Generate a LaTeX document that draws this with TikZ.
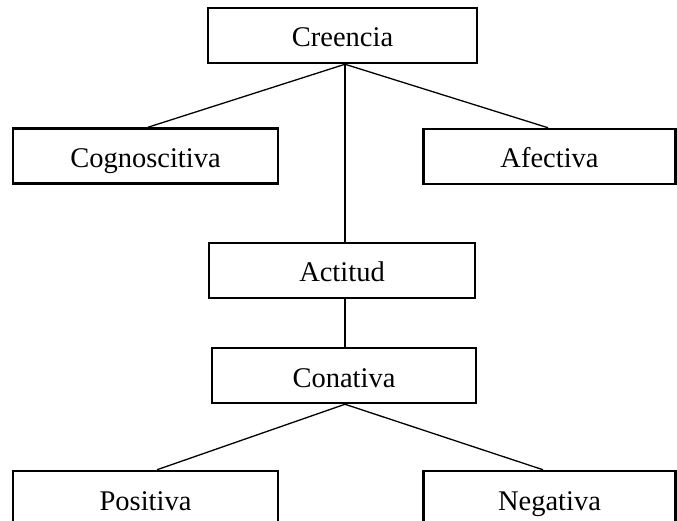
\documentclass[tikz,border=0pt]{standalone}
\usepackage{fontspec}
\setmainfont{Liberation Serif}
\begin{document}
\begin{tikzpicture}[x=1pt,y=-1pt,
  box/.style={draw=black, line width=2.5pt, inner sep=0pt, minimum height=55pt,
    text height=27pt, text depth=4pt,
    font=\fontsize{28.5}{34}\selectfont},
  link/.style={draw=black, line width=1.3pt}]
  \useasboundingbox (0,0) rectangle (677,521);
  % concept boxes
  \node[box, minimum width=269pt] (creencia) at (342.5,35.5) {Creencia};
  \node[box, minimum width=265pt] (cogn) at (145.5,156) {Cognoscitiva};
  \node[box, minimum width=252pt] (afec) at (549.5,156.5) {Afectiva};
  \node[box, minimum width=266pt] (actitud) at (342,270.5) {Actitud};
  \node[box, minimum width=264pt] (conat) at (344,375.5) {Conativa};
  \node[box, minimum width=265pt] (posit) at (145.5,498.5) {Positiva};
  \node[box, minimum width=252pt] (negat) at (549.5,498.5) {Negativa};
  % connectors
  \draw[link] ([xshift=2.5pt]creencia.south) -- ([xshift=2.5pt]cogn.north);
  \draw[link] ([xshift=2.5pt]creencia.south) -- ([xshift=-1.5pt]afec.north);
  \draw[link] ([xshift=2.5pt]creencia.south) -- ([xshift=3pt]actitud.north);
  \draw[link] ([xshift=3pt]actitud.south) -- ([xshift=1pt]conat.north);
  \draw[link] ([xshift=1pt]conat.south) -- ([xshift=11.5pt]posit.north);
  \draw[link] ([xshift=1pt]conat.south) -- ([xshift=-6.5pt]negat.north);
\end{tikzpicture}
\end{document}
